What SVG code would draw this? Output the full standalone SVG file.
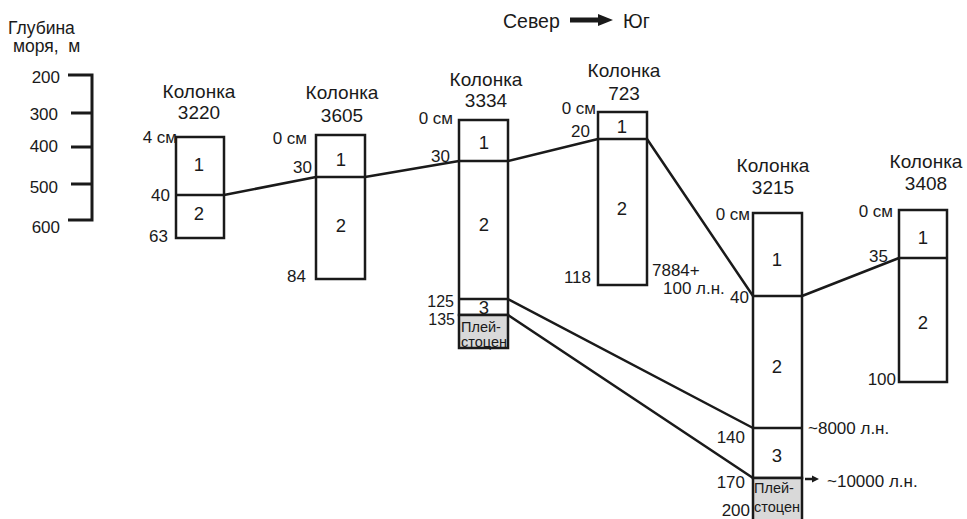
<svg xmlns="http://www.w3.org/2000/svg" width="967" height="519" viewBox="0 0 967 519">
<style>
text{font-family:"Liberation Sans",Arial,sans-serif;fill:#1a1a1a}
.t{font-size:19px;text-anchor:middle}
.n{font-size:18.5px;text-anchor:middle}
.l{font-size:17px;text-anchor:end}
.r{font-size:17px;text-anchor:start}
.s{font-size:14.5px}
.box{fill:#fff;stroke:#1a1a1a;stroke-width:2.5}
.g{fill:#d9d9d9;stroke:#1a1a1a;stroke-width:2.5}
.ln{stroke:#1a1a1a;stroke-width:2.5;fill:none}
</style>
<rect width="967" height="519" fill="#fff"/>
<g id="scale">
<text x="8" y="34" style="font-size:17.5px">Глубина</text>
<text x="13" y="52" style="font-size:17.5px" xml:space="preserve">моря,  м</text>
<path class="ln" style="stroke-width:3" d="M68 75H92V220H68M71 113H92M71 147H92M71 184H92"/>
<text class="l" x="60" y="83">200</text>
<text class="l" x="58" y="120">300</text>
<text class="l" x="58" y="152">400</text>
<text class="l" x="58" y="193">500</text>
<text class="l" x="60" y="233">600</text>
</g>
<g id="direction">
<text x="503" y="28" style="font-size:19.5px">Север</text>
<polygon points="570,17.5 598,17.5 598,14 613,20 598,26 598,22.5 570,22.5" fill="#1a1a1a"/>
<text x="623" y="28" style="font-size:19.5px">Юг</text>
</g>
<g id="connectors">
<path class="ln" d="M224 195L316 177M365 177L459 161M508 161L598 139M647 139L753 296M802 296L899 258M508 299L753 428M508 315L753 478"/>
<path class="ln" d="M805 479H813"/>
<polygon points="812,475.5 819,479 812,482.5" fill="#1a1a1a"/>
</g>
<g id="col3220">
<text class="t" x="199" y="98">Колонка</text>
<text class="t" x="199" y="119">3220</text>
<rect class="box" x="176" y="137" width="48" height="101"/>
<path class="ln" d="M176 195H224"/>
<text class="n" x="199" y="171">1</text>
<text class="n" x="199" y="220">2</text>
<text class="l" x="177" y="143">4 см</text>
<text class="l" x="170" y="201">40</text>
<text class="l" x="168" y="242">63</text>
</g>
<g id="col3605">
<text class="t" x="342" y="99">Колонка</text>
<text class="t" x="342" y="122">3605</text>
<rect class="box" x="316" y="135" width="49" height="144"/>
<path class="ln" d="M316 177H365"/>
<text class="n" x="341" y="166">1</text>
<text class="n" x="341" y="232">2</text>
<text class="l" x="307" y="144">0 см</text>
<text class="l" x="312" y="173">30</text>
<text class="l" x="306" y="282">84</text>
</g>
<g id="col3334">
<text class="t" x="486" y="86">Колонка</text>
<text class="t" x="486" y="107">3334</text>
<rect class="box" x="459" y="120" width="49" height="195"/>
<rect class="g" x="459" y="315" width="49" height="33"/>
<path class="ln" d="M459 161H508M459 299H508"/>
<text class="n" x="484" y="149">1</text>
<text class="n" x="484" y="231">2</text>
<text class="n" x="484" y="314">3</text>
<text class="s" x="461" y="332">Плей-</text>
<text class="s" x="461" y="347">стоцен</text>
<text class="l" x="453" y="124">0 см</text>
<text class="l" x="450" y="162">30</text>
<text class="l" x="454" y="307" style="font-size:16px">125</text>
<text class="l" x="455" y="325" style="font-size:16px">135</text>
</g>
<g id="col723">
<text class="t" x="624" y="77">Колонка</text>
<text class="t" x="624" y="100">723</text>
<rect class="box" x="598" y="112" width="49" height="173"/>
<path class="ln" d="M598 139H647"/>
<text class="n" x="622" y="133">1</text>
<text class="n" x="622" y="215">2</text>
<text class="l" x="596" y="114">0 см</text>
<text class="l" x="590" y="137">20</text>
<text class="l" x="591" y="283">118</text>
<text class="r" x="652" y="276">7884+</text>
<text class="r" x="663" y="294">100 л.н.</text>
</g>
<g id="col3215">
<text class="t" x="773" y="172">Колонка</text>
<text class="t" x="773" y="194">3215</text>
<rect class="box" x="753" y="213" width="49" height="265"/>
<rect class="g" x="753" y="478" width="49" height="50"/>
<path class="ln" d="M753 296H802M753 428H802"/>
<text class="n" x="777" y="266">1</text>
<text class="n" x="777" y="373">2</text>
<text class="n" x="777" y="462">3</text>
<text class="s" x="754" y="493">Плей-</text>
<text class="s" x="754" y="512">стоцен</text>
<text class="l" x="750" y="220">0 см</text>
<text class="l" x="749" y="303">40</text>
<text class="l" x="745" y="443">140</text>
<text class="l" x="745" y="488">170</text>
<text class="l" x="750" y="516">200</text>
<text class="r" x="808" y="434">~8000 л.н.</text>
<text class="r" x="827" y="487">~10000 л.н.</text>
</g>
<g id="col3408">
<text class="t" x="926" y="168">Колонка</text>
<text class="t" x="926" y="190">3408</text>
<rect class="box" x="899" y="210" width="48" height="172"/>
<path class="ln" d="M899 258H947"/>
<text class="n" x="923" y="244">1</text>
<text class="n" x="923" y="329">2</text>
<text class="l" x="893" y="217">0 см</text>
<text class="l" x="888" y="262">35</text>
<text class="l" x="896" y="385">100</text>
</g>
</svg>
